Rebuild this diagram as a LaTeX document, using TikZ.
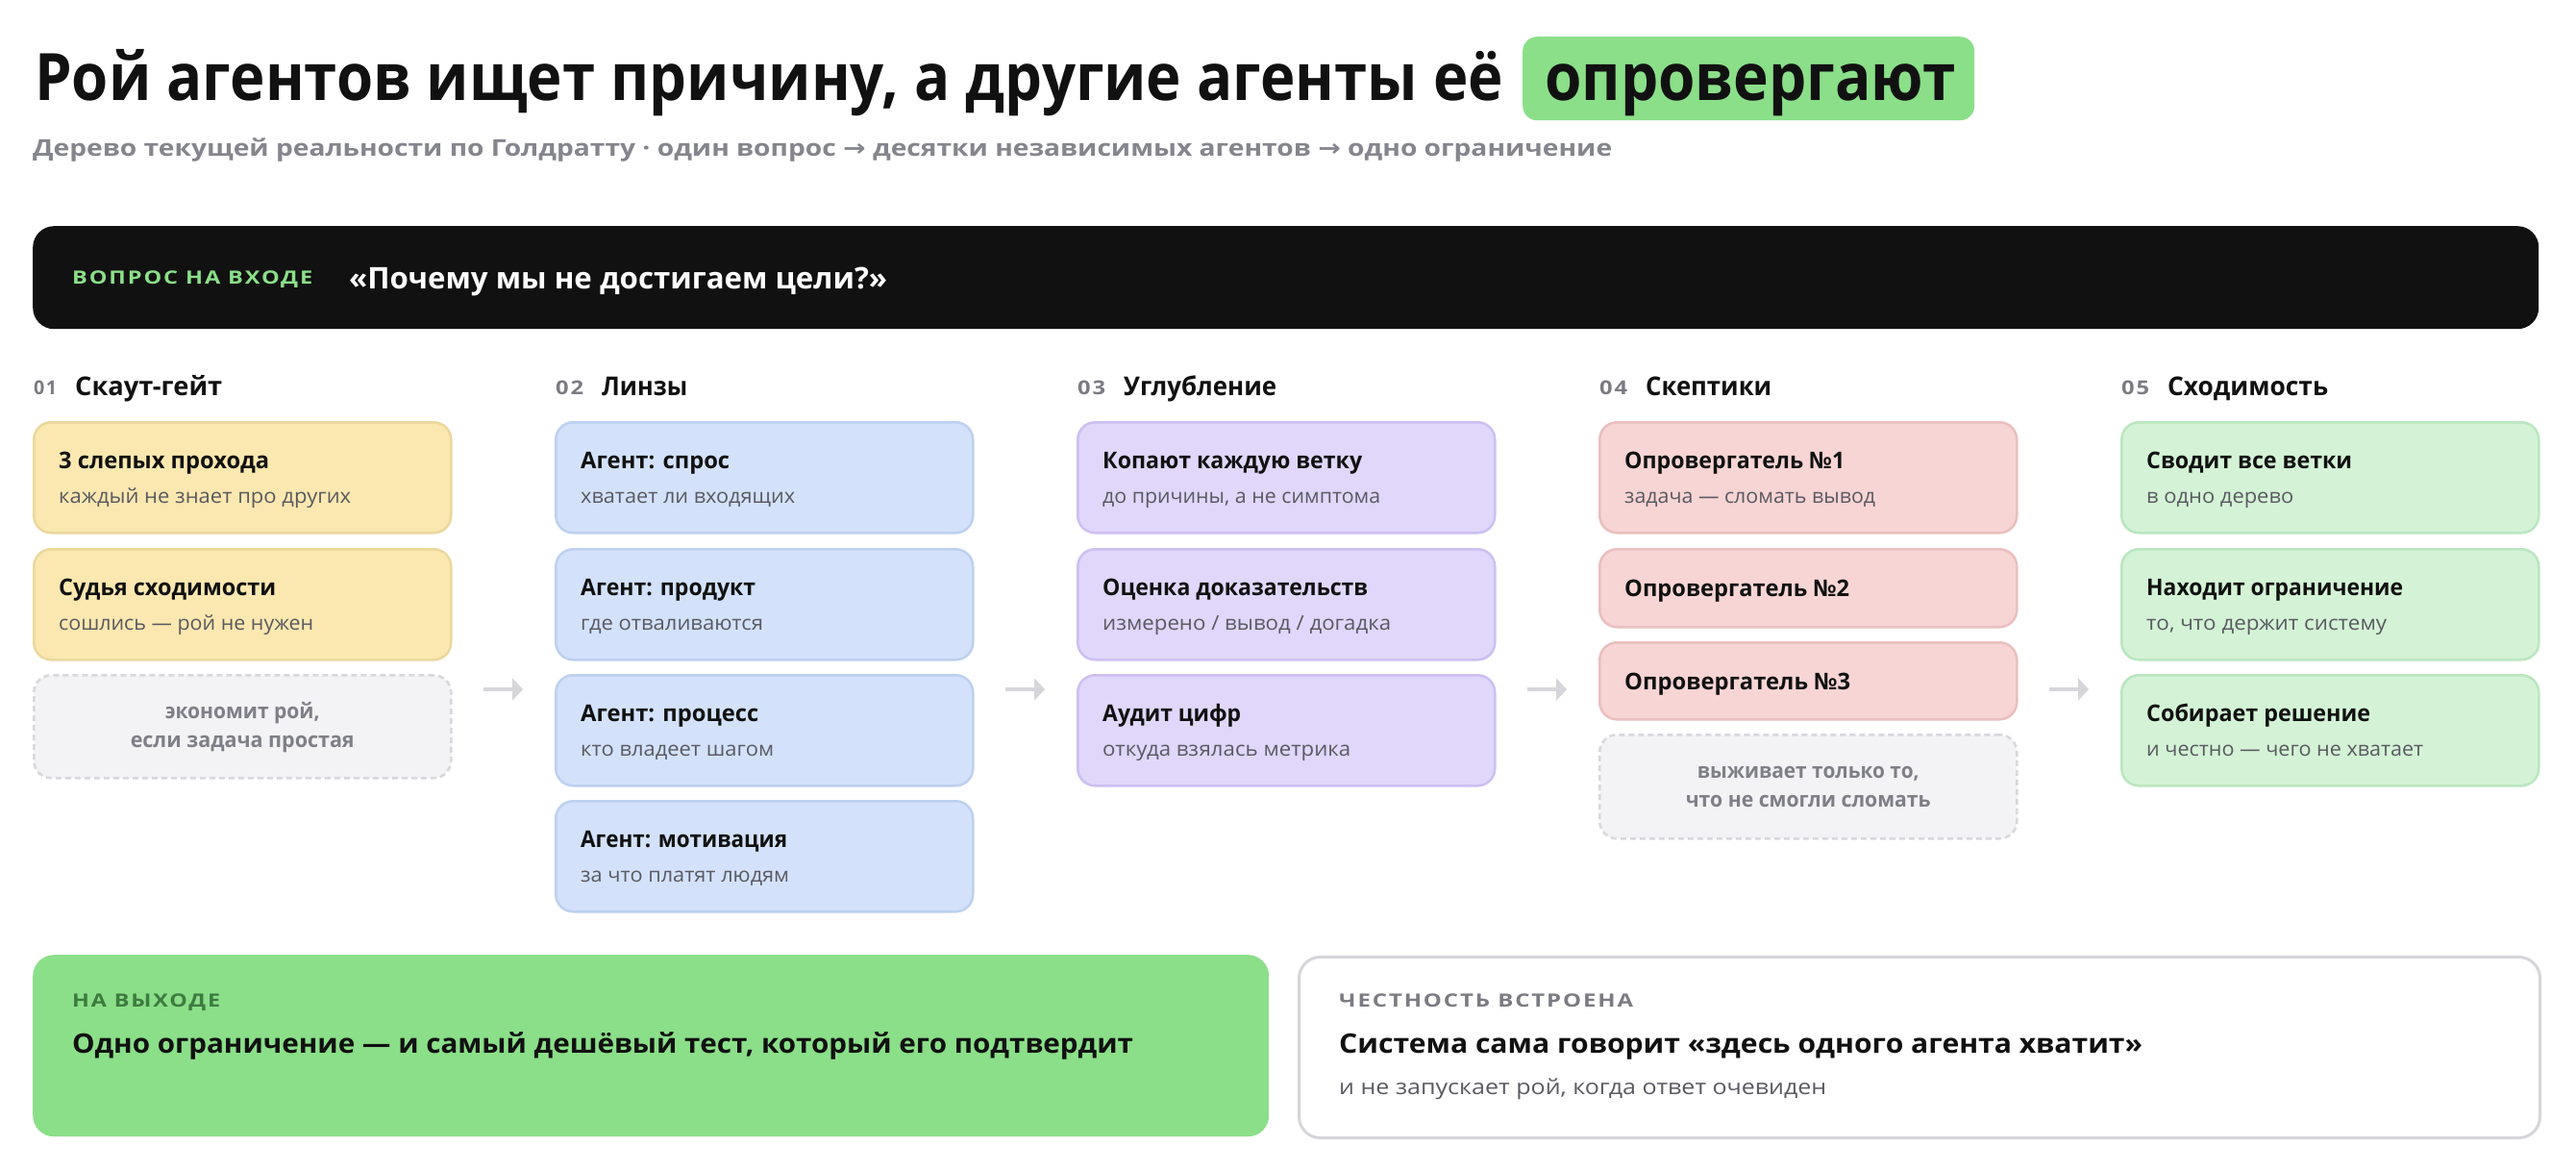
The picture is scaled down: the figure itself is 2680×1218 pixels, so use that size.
\documentclass[tikz,border=0pt]{standalone}
\usepackage{fontspec}
\setmainfont{Open Sans}
\newfontfamily\djv{DejaVu Sans}
\newfontfamily\lsp{Open Sans}[LetterSpace=8]
\usetikzlibrary{calc,arrows.meta}
\definecolor{ink}{HTML}{111111}
\definecolor{topgray}{HTML}{85858D}
\definecolor{numgray}{HTML}{7B7B83}
\definecolor{subgray}{HTML}{5A5A62}
\definecolor{notegray}{HTML}{7F7F87}
\definecolor{hl}{HTML}{8BDF89}
\definecolor{yelF}{HTML}{FBE8B0}\definecolor{yelD}{HTML}{EAD89C}
\definecolor{bluF}{HTML}{D3E2FA}\definecolor{bluD}{HTML}{BDD0F0}
\definecolor{purF}{HTML}{E0D7FA}\definecolor{purD}{HTML}{CDBFF1}
\definecolor{redF}{HTML}{F7D5D5}\definecolor{redD}{HTML}{EABFBF}
\definecolor{grnF}{HTML}{D4F3D6}\definecolor{grnD}{HTML}{BAE6BF}
\definecolor{dashF}{HTML}{F3F3F5}\definecolor{dashD}{HTML}{D8D8DC}
\definecolor{arrC}{HTML}{D6D6DA}
\definecolor{outgreen}{HTML}{3E7B40}
\definecolor{panelD}{HTML}{D6D6DA}
\newsavebox\fitbox
\newcommand\fitw[2]{\sbox\fitbox{#2}\pgfmathsetmacro\fitf{#1/(\the\wd\fitbox)}\scalebox{\fitf}[1]{\usebox\fitbox}}
\tikzset{
  cardbox/.style={rounded corners=18pt, line width=2.5pt, minimum width=434pt, inner sep=0pt, anchor=north west},
  yel/.style={fill=yelF, draw=yelD},
  blu/.style={fill=bluF, draw=bluD},
  pur/.style={fill=purF, draw=purD},
  red/.style={fill=redF, draw=redD},
  grn/.style={fill=grnF, draw=grnD},
  dashbox/.style={cardbox, fill=dashF, draw=dashD, dash pattern=on 6pt off 4pt},
  ttl/.style={anchor=base west, inner sep=0pt, text=ink, font=\fontsize{24}{28}\selectfont\bfseries},
  sbt/.style={anchor=base west, inner sep=0pt, text=subgray, font=\fontsize{21}{25}\selectfont},
  notetxt/.style={anchor=base, inner sep=0pt, text=notegray, font=\fontsize{22}{26}\selectfont\bfseries},
  numtxt/.style={anchor=base west, inner sep=0pt, text=numgray, font=\fontsize{20}{24}\selectfont\lsp\bfseries},
  headtxt/.style={anchor=base west, inner sep=0pt, text=ink, font=\fontsize{27}{32}\selectfont\bfseries},
  arr/.style={draw=arrC, line width=4.5pt, -{Triangle[length=11pt,width=23pt]}},
  lbl/.style={anchor=base west, inner sep=0pt, font=\fontsize{19}{22}\selectfont\lsp\bfseries},
  plain/.style={anchor=base west, inner sep=0pt},
}
\newcommand\card[9]{%
  \node[cardbox,#2,minimum height=#5] (#1) at (#3,#4) {};
  \node[ttl] (#1-t) at ($(#1.north west)+(27,49)$) {\fitw{#7}{#6}};
  \node[sbt] (#1-s) at ($(#1.north west)+(27,85)$) {\fitw{#9}{#8}};
}
\newcommand\cardone[7]{%
  \node[cardbox,#2,minimum height=#5] (#1) at (#3,#4) {};
  \node[ttl] (#1-t) at ($(#1.west)+(27,9)$) {\fitw{#7}{#6}};
}
\newcommand\notebox[8]{%
  \node[dashbox,minimum height=#4] (#1) at (#2,#3) {};
  \node[notetxt] (#1-a) at ($(#1.north)+(0,46)$) {\fitw{#6}{#5}};
  \node[notetxt] (#1-b) at ($(#1.north)+(0,76)$) {\fitw{#8}{#7}};
}
\newcommand\colhead[6]{%
  \node[numtxt] (#1-n) at (#2,410) {\fitw{#4}{#3}};
  \node[headtxt] (#1-h) at ($(#2,411)+(#4,0)+(19,0)$) {\fitw{#6}{#5}};
}
\begin{document}
\begin{tikzpicture}[x=1pt,y=-1pt]
\useasboundingbox (0,0) rectangle (2680,1218);
\fill[white] (0,0) rectangle (2680,1218);

% title
\node[plain, text=ink, font=\fontsize{68}{72}\selectfont\bfseries] (title) at (36,104)
  {\fitw{1528}{Рой агентов ищет причину, а другие агенты её}};
\node[fill=hl, rounded corners=15pt, minimum width=470pt, minimum height=87pt, inner sep=0pt, anchor=north west] (hlbox) at (1584,38) {};
\node[plain, text=ink, font=\fontsize{68}{72}\selectfont\bfseries] (hlword) at (1607,104)
  {\fitw{428}{опровергают}};
\node[plain, text=topgray, font=\fontsize{24}{28}\selectfont\bfseries] (subtitle) at (34,162)
  {\fitw{1643}{Дерево текущей реальности по Голдратту · один вопрос {\djv →} десятки независимых агентов {\djv →} одно ограничение}};

% question bar
\node[fill=ink, rounded corners=22pt, minimum width=2607pt, minimum height=107pt, inner sep=0pt, anchor=north west] (qbar) at (34,235) {};
\node[lbl, text=hl] (qlbl) at (75,295) {\fitw{250}{ВОПРОС НА ВХОДЕ}};
\node[plain, text=white, font=\fontsize{31}{36}\selectfont\bfseries] (qtext) at (363,300) {\fitw{560}{«Почему мы не достигаем цели?»}};

% column headers
\colhead{h1}{35}{01}{24}{Скаут-гейт}{153}
\colhead{h2}{578}{02}{29}{Линзы}{89}
\colhead{h3}{1121}{03}{29}{Углубление}{159}
\colhead{h4}{1664}{04}{29}{Скептики}{131}
\colhead{h5}{2207}{05}{29}{Сходимость}{167}

% column 1
\card{a1}{yel}{34}{438}{115}{3 слепых прохода}{219}{каждый не знает про других}{304}
\card{a2}{yel}{34}{570}{115}{Судья сходимости}{226}{сошлись — рой не нужен}{265}
\notebox{a3}{34}{701}{107}{экономит рой,}{161}{если задача простая}{233}

% column 2
\card{b1}{blu}{577}{438}{115}{Агент: спрос}{155}{хватает ли входящих}{223}
\card{b2}{blu}{577}{570}{115}{Агент: продукт}{182}{где отваливаются}{190}
\card{b3}{blu}{577}{701}{115}{Агент: процесс}{185}{кто владеет шагом}{201}
\card{b4}{blu}{577}{832}{115}{Агент: мотивация}{215}{за что платят людям}{217}

% column 3
\card{c1}{pur}{1120}{438}{115}{Копают каждую ветку}{270}{до причины, а не симптома}{289}
\card{c2}{pur}{1120}{570}{115}{Оценка доказательств}{276}{измерено / вывод / догадка}{300}
\card{c3}{pur}{1120}{701}{115}{Аудит цифр}{144}{откуда взялась метрика}{258}

% column 4
\card{d1}{red}{1663}{438}{115}{Опровергатель №1}{229}{задача — сломать вывод}{261}
\cardone{d2}{red}{1663}{570}{81}{Опровергатель №2}{234}
\cardone{d3}{red}{1663}{667}{80}{Опровергатель №3}{235}
\notebox{d4}{1663}{763}{108}{выживает только то,}{231}{что не смогли сломать}{255}

% column 5
\card{e1}{grn}{2206}{438}{115}{Сводит все ветки}{214}{в одно дерево}{153}
\card{e2}{grn}{2206}{570}{115}{Находит ограничение}{267}{то, что держит систему}{250}
\card{e3}{grn}{2206}{701}{115}{Собирает решение}{233}{и честно — чего не хватает}{288}

% arrows between columns
\coordinate (r1a) at (503,717); \coordinate (r1b) at (544,717);
\coordinate (r2a) at (1046,717); \coordinate (r2b) at (1087,717);
\coordinate (r3a) at (1589,717); \coordinate (r3b) at (1630,717);
\coordinate (r4a) at (2132,717); \coordinate (r4b) at (2173,717);
\draw[arr] (r1a) -- (r1b);
\draw[arr] (r2a) -- (r2b);
\draw[arr] (r3a) -- (r3b);
\draw[arr] (r4a) -- (r4b);

% bottom panels
\node[fill=hl, rounded corners=22pt, minimum width=1286pt, minimum height=189pt, inner sep=0pt, anchor=north west] (outp) at (34,993) {};
\node[lbl, text=outgreen] (outl) at (75,1047) {\fitw{154}{НА ВЫХОДЕ}};
\node[plain, text=ink, font=\fontsize{28}{32}\selectfont\bfseries] (outt) at (75,1095)
  {\fitw{1104}{Одно ограничение — и самый дешёвый тест, который его подтвердит}};

\node[fill=white, draw=panelD, line width=3pt, rounded corners=22pt, minimum width=1291pt, minimum height=188pt, inner sep=0pt, anchor=north west] (hon) at (1350,994) {};
\node[lbl, text=numgray] (honl) at (1393,1047) {\fitw{306}{ЧЕСТНОСТЬ ВСТРОЕНА}};
\node[plain, text=ink, font=\fontsize{28}{32}\selectfont\bfseries] (hont) at (1393,1095)
  {\fitw{836}{Система сама говорит «здесь одного агента хватит»}};
\node[plain, text=subgray, font=\fontsize{22}{26}\selectfont] (hons) at (1393,1138)
  {\fitw{507}{и не запускает рой, когда ответ очевиден}};
\end{tikzpicture}
\end{document}
